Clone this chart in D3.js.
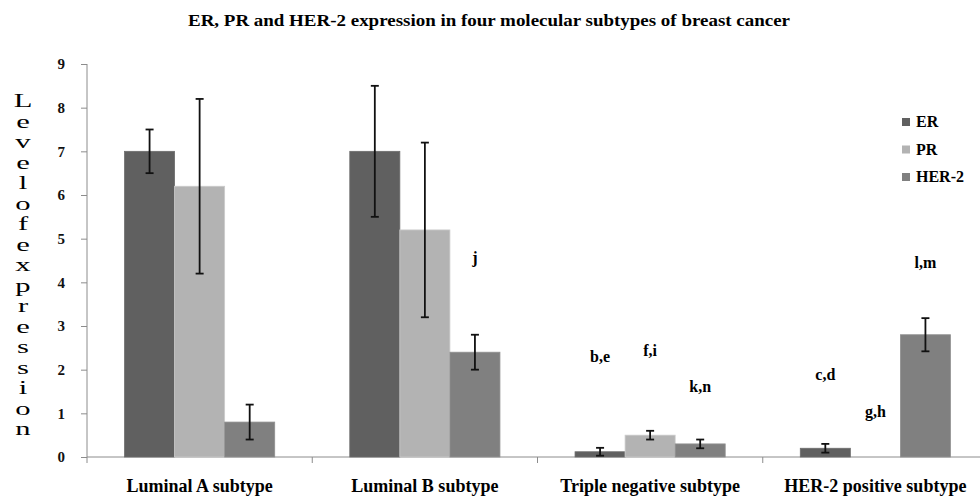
<!DOCTYPE html>
<html>
<head>
<meta charset="utf-8">
<script src="https://cdn.jsdelivr.net/npm/d3@7"></script>
<style>
  body { margin: 0; background: #fff; }
  svg { display: block; font-family: "Liberation Serif", "Times New Roman", serif; }
</style>
</head>
<body>
<svg width="980" height="499"></svg>
<script>
// waarden
const categories = ["Luminal A subtype", "Luminal B subtype", "Triple negative subtype", "HER-2 positive subtype"];
const series = ["ER", "PR", "HER-2"];
const erValues = [7.0, 7.0, 0.12, 0.2];
const erErrors = [0.5, 1.5, 0.09, 0.1];
const prValues = [6.2, 5.2, 0.5, 0];
const prErrors = [2.0, 2.0, 0.1, 0];
const her2Values = [0.8, 2.4, 0.3, 2.8];
const her2Errors = [0.4, 0.4, 0.1, 0.38];
const yTicks = [0, 1, 2, 3, 4, 5, 6, 7, 8, 9];

// letters boven de balken (significantie)
const noteLabels = ["j", "b,e", "f,i", "k,n", "c,d", "g,h", "l,m"];
const noteCategories = [1, 2, 2, 2, 3, 3, 3];
const noteSeries = ["HER-2", "ER", "PR", "HER-2", "ER", "PR", "HER-2"];
const noteLevels = [4.44, 2.17, 2.31, 1.49, 1.76, 0.92, 4.32];

const colors = { "ER": "#606060", "PR": "#b3b3b3", "HER-2": "#808080" };

const values = { "ER": erValues, "PR": prValues, "HER-2": her2Values };
const errors = { "ER": erErrors, "PR": prErrors, "HER-2": her2Errors };

const data = [];
categories.forEach((c, i) => {
    series.forEach(s => {
        data.push({ categorie: c, reeks: s, waarde: values[s][i], fout: errors[s][i] });
    });
});

const svg = d3.select("svg");
const axisColor = "#8c8c8c";
const serif = "Liberation Serif, Times New Roman, serif";

const margin = { top: 64, right: -8, bottom: 42, left: 87 };
const width = +svg.attr("width");
const height = +svg.attr("height");
const innerWidth = width - margin.left - margin.right;
const innerHeight = height - margin.top - margin.bottom;

const x0 = d3.scaleBand()
    .domain(categories)
    .range([0, innerWidth])
    .padding(0);

const x1 = d3.scaleBand()
    .domain(series)
    .range([0, x0.bandwidth()])
    .paddingInner(0)
    .paddingOuter(0.75);

const y = d3.scaleLinear()
    .domain([0, 9])
    .range([innerHeight, 0]);

const g = svg.append("g")
    .attr("transform", `translate(${margin.left},${margin.top})`);

// titel
svg.append("text")
    .attr("x", 188)
    .attr("y", 26)
    .attr("font-family", serif)
    .attr("font-size", 17)
    .attr("font-weight", "bold")
    .attr("textLength", 602)
    .attr("lengthAdjust", "spacingAndGlyphs")
    .text("ER, PR and HER-2 expression in four molecular subtypes of breast cancer");

// y-as
const yAxis = d3.axisLeft(y).tickValues(yTicks).tickSize(6).tickPadding(16).tickFormat(d3.format("d"));
const yG = g.append("g").call(yAxis);
yG.select(".domain").attr("stroke", axisColor).attr("d", `M0,${innerHeight}V0`);
yG.selectAll(".tick line").attr("stroke", axisColor);
yG.selectAll(".tick text")
    .attr("font-family", serif)
    .attr("font-size", 15)
    .attr("font-weight", "bold")
    .attr("fill", "#111");

// x-as met streepjes op de grenzen
const xG = g.append("g").attr("transform", `translate(0,${innerHeight})`);
xG.append("line")
    .attr("x1", 0).attr("x2", innerWidth)
    .attr("stroke", axisColor);
xG.selectAll(".grens")
    .data(categories)
    .enter()
    .append("line")
    .attr("class", "grens")
    .attr("x1", d => x0(d)).attr("x2", d => x0(d))
    .attr("y1", 0).attr("y2", 6)
    .attr("stroke", axisColor);
xG.selectAll(".label")
    .data(categories)
    .enter()
    .append("text")
    .attr("class", "label")
    .attr("x", d => x0(d) + x0.bandwidth() / 2)
    .attr("y", 35)
    .attr("text-anchor", "middle")
    .attr("font-family", serif)
    .attr("font-size", 18)
    .attr("font-weight", "bold")
    .text(d => d);

// balken
g.selectAll(".bar")
    .data(data)
    .enter()
    .append("rect")
    .attr("class", "bar")
    .attr("x", d => x0(d.categorie) + x1(d.reeks))
    .attr("y", d => y(d.waarde))
    .attr("width", x1.bandwidth())
    .attr("height", d => innerHeight - y(d.waarde))
    .attr("fill", d => colors[d.reeks])
    .attr("stroke", d => d3.color(colors[d.reeks]).brighter(0.35))
    .attr("stroke-width", 0.8);

// foutbalken
const metFout = data.filter(d => d.fout > 0);
const cap = 4;
const err = g.selectAll(".err")
    .data(metFout)
    .enter()
    .append("g")
    .attr("class", "err")
    .attr("stroke", "#111")
    .attr("stroke-width", 1.8);
const cx = d => x0(d.categorie) + x1(d.reeks) + x1.bandwidth() / 2;
err.append("line")
    .attr("x1", cx).attr("x2", cx)
    .attr("y1", d => y(d.waarde + d.fout))
    .attr("y2", d => y(d.waarde - d.fout));
err.append("line")
    .attr("x1", d => cx(d) - cap).attr("x2", d => cx(d) + cap)
    .attr("y1", d => y(d.waarde + d.fout)).attr("y2", d => y(d.waarde + d.fout));
err.append("line")
    .attr("x1", d => cx(d) - cap).attr("x2", d => cx(d) + cap)
    .attr("y1", d => y(d.waarde - d.fout)).attr("y2", d => y(d.waarde - d.fout));

// letters
g.selectAll(".note")
    .data(noteLabels)
    .enter()
    .append("text")
    .attr("class", "note")
    .attr("x", (d, i) => x0(categories[noteCategories[i]]) + x1(noteSeries[i]) + x1.bandwidth() / 2)
    .attr("y", (d, i) => y(noteLevels[i]))
    .attr("text-anchor", "middle")
    .attr("font-family", serif)
    .attr("font-size", 16)
    .attr("font-weight", "bold")
    .text(d => d);

// legenda
const legend = svg.append("g").attr("transform", "translate(902,127)");
const leg = legend.selectAll(".leg")
    .data(series)
    .enter()
    .append("g")
    .attr("transform", (d, i) => `translate(0,${i * 27.5})`);
leg.append("rect")
    .attr("x", 0).attr("y", -9)
    .attr("width", 8).attr("height", 8)
    .attr("fill", d => colors[d]);
leg.append("text")
    .attr("x", 14)
    .attr("y", 0)
    .attr("font-family", serif)
    .attr("font-size", 16)
    .attr("font-weight", "bold")
    .text(d => d);

// y-as titel, letter voor letter onder elkaar
const yTitle = "Levelofexpression".split("");
svg.append("g")
    .selectAll("text")
    .data(yTitle)
    .enter()
    .append("text")
    .attr("transform", (d, i) => `translate(23,${107 + i * 20.5}) scale(1.7,1)`)
    .attr("text-anchor", "middle")
    .attr("font-family", serif)
    .attr("font-size", 18)
    .text(d => d);
</script>
</body>
</html>
